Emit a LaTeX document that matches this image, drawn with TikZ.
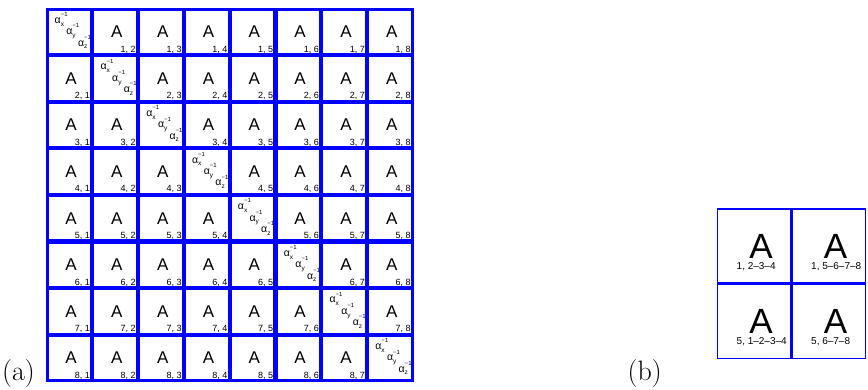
\documentclass[tikz,border=0pt]{standalone}
\usepackage{fontspec}
\newfontfamily\hv{Liberation Sans}
\definecolor{gridblue}{RGB}{0,0,255}
\newcommand{\fs}[1]{\fontsize{#1}{#1}\selectfont}
\newcommand{\alab}[1]{\hv\fs{10.5}α\rlap{\raisebox{6.8pt}{\fs{6}−1}}\raisebox{-2.7pt}{\fs{6.5}#1}}
\begin{document}
\begin{tikzpicture}[x=1pt,y=-1pt,
  cellA/.style={draw=gridblue,line width=2.7pt,minimum width=44.3pt,minimum height=45.1pt,inner sep=0pt},
  cellB/.style={draw=gridblue,line width=1.8pt,minimum width=73.5pt,minimum height=74.25pt,inner sep=0pt},
  bigA/.style={font=\hv\fs{17},inner sep=0pt},
  hugeA/.style={font=\hv\fs{35},inner sep=0pt,anchor=base,text depth=0pt},
  idx/.style={font=\hv\fs{9},inner sep=0pt,anchor=base east},
  idxB/.style={font=\hv\fs{10},inner sep=0pt,anchor=base west},
  alpha/.style={inner sep=0pt,anchor=base west},
  caption/.style={font=\fs{28},inner sep=0pt,anchor=base west}]
\useasboundingbox (0,0) rectangle (868,389);
% grid (a)
\foreach \r in {1,...,8}{
  \foreach \c in {1,...,8}{
    \pgfmathsetmacro{\cx}{46.5+(\c-0.5)*45.81}
    \pgfmathsetmacro{\cy}{8.5+(\r-0.5)*46.6}
    \node[cellA] (a-\r-\c) at (\cx,\cy) {};
    \ifnum\r=\c
      \pgfmathsetmacro{\lx}{\cx-22.9}
      \pgfmathsetmacro{\ty}{\cy-23.3}
      \node[alpha] (ax-\r) at (\lx+8,\ty+14.8) {\alab{x}};
      \node[alpha] (ay-\r) at (\lx+19.7,\ty+26.2) {\alab{y}};
      \node[alpha] (az-\r) at (\lx+31.3,\ty+37.5) {\alab{z}};
    \else
      \node[bigA] (A-\r-\c) at (\cx+1.7,\cy) {A};
      \node[idx] (i-\r-\c) at (\cx+20.7,\cy+20.3) {\r, \c};
    \fi
  }
}
\node[caption] (capa) at (2,380) {(a)};
% grid (b)
\node[cellB] (b-1-1) at (754.25,246.1) {};
\node[cellB] (b-1-2) at (828.75,246.1) {};
\node[cellB] (b-2-1) at (754.25,321.4) {};
\node[cellB] (b-2-2) at (828.75,321.4) {};
\node[hugeA] (B-1-1) at (761,258) {A};
\node[hugeA] (B-1-2) at (835.5,258) {A};
\node[hugeA] (B-2-1) at (761,333.3) {A};
\node[hugeA] (B-2-2) at (835.5,333.3) {A};
\node[idxB] (j-1-1) at (736.5,269) {1, 2–3–4};
\node[idxB] (j-1-2) at (811,269) {1, 5–6–7–8};
\node[idxB] (j-2-1) at (736.5,344.3) {5, 1–2–3–4};
\node[idxB] (j-2-2) at (811,344.3) {5, 6–7–8};
\node[caption,anchor=base east] (capb) at (662,380) {(b)};
\end{tikzpicture}
\end{document}
